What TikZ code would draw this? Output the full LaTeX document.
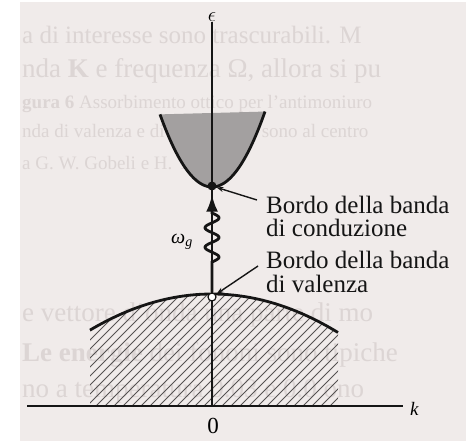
\documentclass[tikz,border=0pt]{standalone}
\usepackage{fontspec}
\setmainfont{Liberation Serif}
\usetikzlibrary{arrows.meta,calc}
\definecolor{paper}{HTML}{F0EBEA}
\definecolor{bleed}{HTML}{DCD5D4}
\definecolor{bandfill}{HTML}{A3A0A0}
\definecolor{ink}{HTML}{151515}
\definecolor{hatch}{HTML}{555252}
\begin{document}
\begin{tikzpicture}[x=1pt,y=-1pt,
  lbl/.style={inner sep=0pt, anchor=base west, font=\fontsize{25}{25}\selectfont, text=ink},
  bleedtxt/.style={inner sep=0pt, anchor=base west, text=bleed},
  bigbleed/.style={bleedtxt, font=\fontsize{27}{27}\selectfont},
  smallbleed/.style={bleedtxt, font=\fontsize{19}{19}\selectfont},
  pointer/.style={draw=ink, line width=1.4pt, -{Stealth[length=7pt,width=5pt]}},
  band/.style={draw=ink, line width=2.8pt},
  axisline/.style={draw=ink, line width=1.3pt},
  ]
\useasboundingbox (0,0) rectangle (466,441);
\fill[white] (0,0) rectangle (466,441);
\fill[paper] (20,2) rectangle (466,441);
% faint text showing through the page
\begin{scope}
\clip (20,2) rectangle (466,441);
\node[bleedtxt, font=\fontsize{25}{25}\selectfont] (bl1) at (22,44) {a di interesse sono trascurabili. M};
\node[bigbleed] (bl2) at (22,78) {nda \textbf{K} e frequenza Ω, allora si pu};
\node[smallbleed] (bl3) at (22,109) {\textbf{gura 6} Assorbimento ottico per l'antimoniuro};
\node[smallbleed] (bl4) at (22,138) {nda di valenza e di conduzione sono al centro};
\node[smallbleed] (bl5) at (22,170) {a G. W. Gobeli e H. Y. Fan).};
\node[bigbleed] (bl8) at (22,321) {e vettore d'onda una parte di mo};
\node[bigbleed] (bl9) at (22,361) {\textbf{Le energie} dei fononi sono tipiche};
\node[bigbleed] (bl10) at (22,397) {no a temperatura 0.03 e 0.0 ono};
\end{scope}
% conduction band
\fill[bandfill] plot[domain=160:265, samples=60] (\x,{187-0.02685*(\x-212)^2}) -- cycle;
% valence band hatching
\begin{scope}
\clip plot[domain=90:338, samples=60] (\x,{294+0.00242*(\x-212)^2}) -- (338,406) -- (90,406) -- cycle;
\foreach \i in {0,...,42} \draw[line width=0.8pt, draw=hatch] ({-30+9*\i},406) -- ++(140,-140);
\end{scope}
% axes
\node[inner sep=0pt, anchor=base, font=\fontsize{20}{20}\selectfont] (eps) at (212,22) {$\epsilon$};
\coordinate (o) at (212,406);
\coordinate (xl) at (27,406);
\coordinate (xr) at (403,406);
\draw[axisline] (eps.south) -- (o);
\draw[draw=ink, line width=1.8pt] (xl) -- (xr);
\node[inner sep=0pt, anchor=base west, font=\fontsize{19}{19}\selectfont\itshape] (k) at (410,415) {k};
\node[inner sep=0pt, anchor=base, font=\fontsize{23}{23}\selectfont] (zero) at (213,433) {0};
% band curves
\draw[band] plot[domain=160:265, samples=60] (\x,{187-0.02685*(\x-212)^2});
\draw[band] plot[domain=90:338, samples=60] (\x,{294+0.00242*(\x-212)^2});
% band edges
\node[circle, fill=ink, inner sep=0pt, minimum size=9pt] (cbe) at (212,186) {};
\node[circle, draw=ink, fill=white, line width=1.2pt, inner sep=0pt, minimum size=8pt] (vbe) at (212,297) {};
% photon
\draw[draw=ink, line width=2.8pt, -{Latex[length=17pt,width=12pt]}]
  (vbe.north) -- (212,262) -- plot[domain=0:1, samples=80] ({212+7*sin(900*\x)},{262-49*\x}) -- ($(cbe.south)+(0,4)$);
\node[inner sep=0pt, anchor=base west, font=\fontsize{20}{20}\selectfont] (wg) at (171,243) {\textit{ω}\textsubscript{\textit{g}}};
% labels
\node[lbl] (cbt1) at (266,213) {Bordo della banda};
\node[lbl] (cbt2) at (266,236) {di conduzione};
\node[lbl] (vbt1) at (266,268) {Bordo della banda};
\node[lbl] (vbt2) at (266,292) {di valenza};
\draw[pointer] ($(cbt1.base west)+(-9,-13)$) -- (cbe);
\draw[pointer, shorten >=1pt] ($(vbt1.base west)+(-8,-2)$) -- (vbe);
\end{tikzpicture}
\end{document}
